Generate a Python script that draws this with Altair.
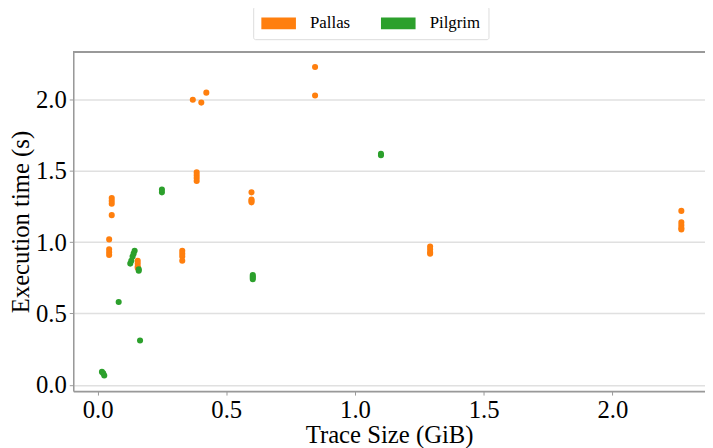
import altair as alt
import pandas as pd

# Pallas measurements (trace size GiB, execution time s)
pallas_x = [0.045, 0.045, 0.045, 0.045,
            0.055, 0.055, 0.055, 0.055,
            0.156, 0.156, 0.156, 0.156,
            0.329, 0.329, 0.329, 0.329,
            0.370,
            0.385, 0.385, 0.385, 0.385,
            0.403, 0.4225,
            0.598, 0.598, 0.598, 0.598,
            0.845, 0.845,
            1.292, 1.292, 1.292, 1.292,
            2.268, 2.268, 2.268, 2.268, 2.268]
pallas_y = [1.02, 0.95, 0.93, 0.91,
            1.31, 1.29, 1.27, 1.19,
            0.87, 0.85, 0.83, 0.82,
            0.94, 0.92, 0.90, 0.87,
            2.00,
            1.49, 1.47, 1.45, 1.43,
            1.98, 2.05,
            1.35, 1.30, 1.29, 1.28,
            2.23, 2.03,
            0.97, 0.95, 0.93, 0.92,
            1.22, 1.14, 1.12, 1.10, 1.09]

# Pilgrim measurements
pilgrim_x = [0.017, 0.022, 0.026,
             0.082,
             0.127, 0.131, 0.136, 0.140, 0.144,
             0.160, 0.160,
             0.165,
             0.250, 0.250,
             0.603, 0.603, 0.603, 0.603,
             1.101, 1.101]
pilgrim_y = [0.09, 0.08, 0.065,
             0.58,
             0.85, 0.87, 0.90, 0.92, 0.94,
             0.80, 0.81,
             0.31,
             1.35, 1.37,
             0.77, 0.76, 0.75, 0.74,
             1.61, 1.62]

series = ["Pallas", "Pilgrim"]
colors = ["#ff7f0e", "#2ca02c"]
x_ticks = [0.0, 0.5, 1.0, 1.5, 2.0]
y_ticks = [0.0, 0.5, 1.0, 1.5, 2.0]

df = pd.concat([
    pd.DataFrame({"size": pallas_x, "time": pallas_y, "tool": "Pallas"}),
    pd.DataFrame({"size": pilgrim_x, "time": pilgrim_y, "tool": "Pilgrim"}),
])

FONT = "Liberation Serif"
W, H = 639, 343
FS = 25

points = alt.Chart(df).mark_circle(size=38, opacity=1).encode(
    x=alt.X("size:Q", title="Trace Size (GiB)",
            scale=alt.Scale(domain=[-0.0945, -0.0945 + W / 260.35], nice=False, zero=False),
            axis=alt.Axis(values=x_ticks, format=".1f", grid=False, labelFontSize=FS,
                          titleFontSize=FS, tickSize=4, labelPadding=3, titlePadding=0,
                          domainColor="#999999", domainWidth=2, tickColor="#999999",
                          labelColor="black", titleColor="black", labelFont=FONT,
                          titleFont=FONT, titleFontWeight="normal")),
    y=alt.Y("time:Q", title="Execution time (s)",
            scale=alt.Scale(domain=[-0.045, 2.335], nice=False, zero=False),
            axis=alt.Axis(values=y_ticks, format=".1f", grid=True, gridColor="#e0e0e0",
                          gridWidth=1.5, labelFontSize=FS, titleFontSize=FS, tickSize=4,
                          labelPadding=3, titleX=-53, titleBaseline="middle",
                          domainColor="#999999",
                          domainWidth=1.5, tickColor="#999999", labelColor="black",
                          titleColor="black", labelFont=FONT, titleFont=FONT,
                          titleFontWeight="normal")),
    color=alt.Color("tool:N", scale=alt.Scale(domain=series, range=colors),
                    legend=alt.Legend(title=None, orient="none", legendX=182, legendY=-46,
                                      direction="horizontal", columns=2,
                                      symbolType="M-1,-0.68H3V0.68H-1Z", symbolSize=306,
                                      symbolStrokeWidth=0, symbolOpacity=1,
                                      labelFont=FONT, labelFontSize=17, labelColor="black",
                                      labelOffset=31.5, columnPadding=30, padding=8,
                                      strokeColor="#dddddd", cornerRadius=2,
                                      fillColor="white")),
)

top_spine = alt.Chart(df).mark_rule(color="#999999", strokeWidth=2).encode(
    x=alt.value(0), x2=alt.value(W), y=alt.value(0)
)

chart = alt.layer(points, top_spine).properties(
    width=W, height=H,
    autosize=alt.AutoSizeParams(type="none"),
    padding={"left": 66, "top": 42, "right": 0, "bottom": 55},
).configure_view(stroke=None).configure(font=FONT).configure_legend(labelFont=FONT)

chart.save("out.html", embed_options={"renderer": "svg", "actions": False})
